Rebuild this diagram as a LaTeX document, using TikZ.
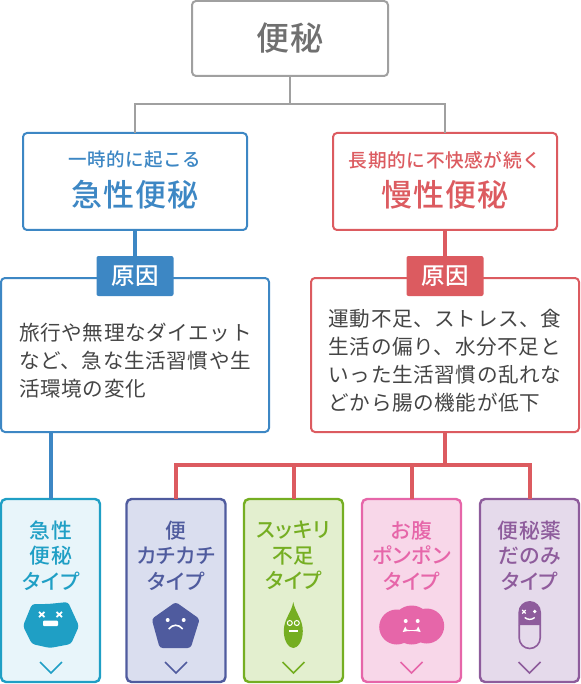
\documentclass[tikz,border=0pt]{standalone}
\usepackage{fontspec}
\setmainfont[BoldFont={Noto Sans CJK JP Medium}]{Noto Sans CJK JP}
\newfontfamily\spaced[LetterSpace=3,BoldFont={Noto Sans CJK JP Medium}]{Noto Sans CJK JP}
\newfontfamily\cardfont[LetterSpace=3,RawFeature=+palt]{Noto Sans CJK JP Medium}
\definecolor{greyline}{HTML}{A0A0A0}
\definecolor{greytext}{HTML}{707070}
\definecolor{bodytext}{HTML}{454545}
\definecolor{acuteblue}{HTML}{3D87C4}
\definecolor{chronicred}{HTML}{DC5B60}
\definecolor{cyanline}{HTML}{1F9FC5}
\definecolor{cyanfill}{HTML}{E8F5FA}
\definecolor{navyline}{HTML}{4F5B9E}
\definecolor{navyfill}{HTML}{DADEEF}
\definecolor{leafline}{HTML}{75AE22}
\definecolor{leaffill}{HTML}{E3EFCF}
\definecolor{pinkline}{HTML}{E666A9}
\definecolor{pinkfill}{HTML}{F8D7E9}
\definecolor{plumline}{HTML}{8E5C9C}
\definecolor{plumfill}{HTML}{E5DAEB}
\tikzset{
  basebox/.style={draw=#1, fill=white, line width=2pt, rounded corners=4pt, outer sep=0pt, inner sep=0pt},
  causebox/.style={basebox=#1, minimum width=268pt, minimum height=154pt},
  causetag/.style={fill=#1, text=white, rounded corners=2pt, minimum width=77pt, minimum height=40pt,
    outer sep=0pt, inner sep=0pt, font=\spaced\bfseries\fontsize{23.5}{24}\selectfont},
  causetext/.style={text=bodytext, anchor=west, align=left, inner sep=0pt,
    font=\spaced\fontsize{20.6}{28}\selectfont},
  cardbox/.style 2 args={draw=#1, fill=#2, line width=2.4pt, rounded corners=5pt, outer sep=0pt,
    minimum width=99pt, minimum height=183pt},
  cardtext/.style={text=#1, align=center, inner sep=0pt,
    font=\cardfont\fontsize{20.8}{25.5}\selectfont},
  chevron/.style={draw=#1, line width=1.6pt},
}
\begin{document}
\begin{tikzpicture}[x=1pt, y=-1pt]
  \useasboundingbox (0,0) rectangle (580,684);

  % Top box
  \node[basebox=greyline, minimum width=196pt, minimum height=75pt, text=greytext,
    font=\spaced\bfseries\fontsize{33}{33}\selectfont] (constipation) at (290,38.5) {便秘};

  % Two kinds of constipation
  \node[basebox=acuteblue, minimum width=224pt, minimum height=97pt] (acute) at (135,181.5) {};
  \node[text=acuteblue, inner sep=0pt, font=\spaced\bfseries\fontsize{18.5}{19}\selectfont] (acutesub) at (135,160) {一時的に起こる};
  \node[text=acuteblue, inner sep=0pt, font=\spaced\bfseries\fontsize{31}{31}\selectfont] (acutename) at (135,195) {急性便秘};
  \node[basebox=chronicred, minimum width=224pt, minimum height=97pt] (chronic) at (445,181.5) {};
  \node[text=chronicred, inner sep=0pt, font=\spaced\bfseries\fontsize{18.7}{19}\selectfont] (chronicsub) at (445,160) {長期的に不快感が続く};
  \node[text=chronicred, inner sep=0pt, font=\spaced\bfseries\fontsize{31}{31}\selectfont] (chronicname) at (445,195) {慢性便秘};

  % Causes
  \node[causebox=acuteblue] (causeA) at (135,355) {};
  \node[causetag=acuteblue] (tagA) at (135,276) {原因};
  \node[causetext] (textA) at (19,361) {旅行や無理なダイエット\\など、急な生活習慣や生\\活環境の変化};
  \node[causebox=chronicred] (causeB) at (445,355) {};
  \node[causetag=chronicred] (tagB) at (445,276) {原因};
  \node[causetext] (textB) at (328.5,361) {運動不足、ストレス、食\\生活の偏り、水分不足と\\いった生活習慣の乱れな\\どから腸の機能が低下};

  % Cards
  \node[cardbox={cyanline}{cyanfill}] (card1) at (50.5,590.5) {};
  \node[cardtext=cyanline] (card1text) at (51,555.5) {急性\\便秘\\タイプ};
  \node[cardbox={navyline}{navyfill}] (card2) at (176,590.5) {};
  \node[cardtext=navyline] (card2text) at (176,555.5) {便\\カチカチ\\タイプ};
  \node[cardbox={leafline}{leaffill}] (card3) at (293.5,590.5) {};
  \node[cardtext=leafline] (card3text) at (293.5,555.5) {スッキリ\\不足\\タイプ};
  \node[cardbox={pinkline}{pinkfill}] (card4) at (411.5,590.5) {};
  \node[cardtext=pinkline] (card4text) at (411.5,555.5) {お腹\\ポンポン\\タイプ};
  \node[cardbox={plumline}{plumfill}] (card5) at (529.5,590.5) {};
  \node[cardtext=plumline] (card5text) at (529.5,555.5) {便秘薬\\だのみ\\タイプ};

  % Connectors
  \coordinate (greybus) at (290,104);
  \coordinate (redbus) at (445,465);
  \draw[greyline, line width=2pt] (constipation.south) -- (greybus);
  \draw[greyline, line width=2pt] (acute.north) |- (greybus) -| (chronic.north);
  \draw[acuteblue, line width=4pt] (acute.south) -- (tagA.north);
  \draw[chronicred, line width=4pt] (chronic.south) -- (tagB.north);
  \draw[acuteblue, line width=4pt] (card1.north) -- (card1.north |- causeA.south);
  \draw[chronicred, line width=4pt] (causeB.south) -- (redbus);
  \draw[chronicred, line width=4pt] (card2.north) |- (redbus) -| (card5.north);
  \draw[chronicred, line width=4pt] (card3.north) -- (card3.north |- redbus);
  \draw[chronicred, line width=4pt] (card4.north) -- (card4.north |- redbus);

  % Chevrons
  \draw[chevron=cyanline] (40,662) -- (51,673) -- (62,662);
  \draw[chevron=navyline] (165,662) -- (176,673) -- (187,662);
  \draw[chevron=leafline] (282.5,662) -- (293.5,673) -- (304.5,662);
  \draw[chevron=pinkline] (400.5,662) -- (411.5,673) -- (422.5,662);
  \draw[chevron=plumline] (518.5,662) -- (529.5,673) -- (540.5,662);

  % Icon 1: blob
  \begin{scope}[shift={(51,625)}]
    \fill[cyanline, rounded corners=3pt] (-19,-21) -- (-3,-21) -- (17,-23) -- (28,1) -- (20,19) -- (-1,23) -- (-19,19) -- (-28,1) -- cycle;
    \draw[white, line width=1.8pt] (-12,-13) -- (-6.5,-8) (-12,-8) -- (-6.5,-13);
    \draw[white, line width=1.8pt] (5.5,-13) -- (11,-8) (5.5,-8) -- (11,-13);
    \fill[white, rounded corners=1pt] (-8,-4.5) rectangle (7,1);
  \end{scope}

  % Icon 2: pentagon
  \begin{scope}[shift={(175.7,625)}]
    \fill[navyline, rounded corners=3pt] (0,-23) -- (24,-6) -- (15,23) -- (-16,23) -- (-24,-6) -- cycle;
    \fill[white] (-8,-5) circle (2pt);
    \fill[white] (8,-5) circle (2pt);
    \draw[white, line width=1.6pt] (-7,4) .. controls (-3,-1) and (3,-1) .. (7,4);
  \end{scope}

  % Icon 3: drop
  \begin{scope}[shift={(293.3,625)}]
    \fill[leafline] (0,-23) .. controls (2,-12) and (9.5,-6) .. (9.5,6) .. controls (9.5,17) and (4,23) .. (0,23) .. controls (-4,23) and (-9.5,17) .. (-9.5,6) .. controls (-9.5,-6) and (-2,-12) .. (0,-23) -- cycle;
    \draw[white, line width=1pt] (-3.5,-2) circle (2.5pt);
    \draw[white, line width=1pt] (3.5,-2) circle (2.5pt);
    \draw[white, line width=1.2pt] (-4.5,6) -- (4.5,6);
  \end{scope}

  % Icon 4: cloud
  \begin{scope}[shift={(411.7,625)}]
    \fill[pinkline] (-15,2) circle (17.5pt);
    \fill[pinkline] (15,1) circle (17.5pt);
    \fill[pinkline] (0,0) circle (19.5pt);
    \fill[white] (-6,-4) circle (2pt);
    \fill[white] (6,-4) circle (2pt);
    \fill[white] (-9,7) -- (-6.5,1.5) -- (-5,4.5) .. controls (-2,5.5) and (2,5.5) .. (5,4.5) -- (6.5,1.5) -- (9,7) .. controls (3,5.5) and (-3,5.5) .. (-9,7) -- cycle;
  \end{scope}

  % Icon 5: capsule
  \begin{scope}[shift={(529.7,625)}]
    \draw[plumline, line width=1.6pt] (-10.5,0) -- (-10.5,13) arc[start angle=180, end angle=360, radius=10.5pt] -- (10.5,0);
    \fill[plumline] (-11.3,0) -- (-11.3,-12.7) arc[start angle=180, end angle=0, radius=11.3pt] -- (11.3,0) -- cycle;
    \draw[white, line width=1.3pt] (-7.5,-15) -- (-4,-11.5) (-7.5,-11.5) -- (-4,-15);
    \fill[white] (5,-13.5) circle (1.8pt);
    \draw[white, line width=1.4pt] (-5,-7.5) .. controls (-2,-5) and (2,-5) .. (5,-7.5);
  \end{scope}
\end{tikzpicture}
\end{document}
